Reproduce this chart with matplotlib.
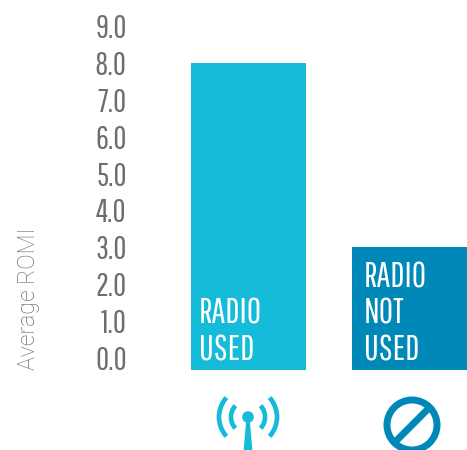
import matplotlib
matplotlib.use("Agg")
import matplotlib.pyplot as plt
from matplotlib.patches import Arc, Circle, Polygon

# chart values
categories = ["RADIO\nUSED", "RADIO\nNOT\nUSED"]
values = [8.0, 3.0]
yticks = [0, 1, 2, 3, 4, 5, 6, 7, 8, 9]
ylabels = ["0.0", "1.0", "2.0", "3.0", "4.0", "5.0", "6.0", "7.0", "8.0", "9.0"]
colors = ["#14BCD9", "#0089B8"]

W, H = 467, 450
PX_PER_UNIT = 36.9
ZERO_Y = 358
BASE_Y = 370
baseline = (ZERO_Y - BASE_Y) / PX_PER_UNIT  # bars start a bit under the 0.0 label
top_y = ZERO_Y - 9 * PX_PER_UNIT

narrow = ["Pathway Gothic One", "Oswald", "Roboto Condensed", "Roboto"]

fig = plt.figure(figsize=(W / 100, H / 100), dpi=100)
left = 130
ax = fig.add_axes([left / W, (H - BASE_Y) / H, (W - left) / W, (BASE_Y - top_y) / H])

bar_w = 115 / 161
heights = [v - baseline for v in values]
ax.bar(range(2), heights, width=bar_w, bottom=baseline, color=colors)
ax.set_xlim((left - 248.5) / 161, 1 + bar_w / 2)
ax.set_ylim(baseline, 9)

ax.set_yticks(yticks)
ax.set_yticklabels(ylabels, family=narrow, fontsize=23, color="#6D6E71")
ax.tick_params(axis="y", length=0, pad=2.3)
ax.set_xticks([])
for s in ax.spines.values():
    s.set_visible(False)

# white labels inside the bars
for i, lab in enumerate(categories):
    lines = lab.split("\n")
    for j, line in enumerate(lines):
        n = len(lines) - 1 - j
        ax.annotate(line, xy=(i - bar_w / 2, 0), xycoords="data",
                    xytext=(8 if i == 0 else 12, -(350 - ZERO_Y - n * 36.5)),
                    textcoords="offset pixels", color="white", family=narrow,
                    fontsize=25, ha="left", va="center")

fig.text(29 / W, (H - 299) / H, "Average ROMI", rotation=90, family="Roboto",
         fontweight="light", fontsize=16.7, color="#6D6E71", ha="center", va="center")

# icons, drawn in pixel space
ov = fig.add_axes([0, 0, 1, 1])
ov.set_xlim(0, W)
ov.set_ylim(H, 0)
ov.axis("off")

c = colors[0]
ov.add_patch(Circle((248, 417), 5.8, color=c, lw=0))
ov.add_patch(Polygon([(246.5, 417), (249.5, 417), (252.5, 452), (243.5, 452)], color=c, lw=0))
for r in (17, 29):
    lw = 3.4
    ov.add_patch(Arc((248, 417), 2 * r, 2 * r, theta1=-42, theta2=42, color=c, lw=lw))
    ov.add_patch(Arc((248, 417), 2 * r, 2 * r, theta1=138, theta2=222, color=c, lw=lw))

c2 = colors[1]
ov.add_patch(Circle((412, 425), 25, fill=False, ec=c2, lw=5.0))
ov.plot([393, 431], [444, 406], color=c2, lw=5.0, solid_capstyle="butt")

fig.savefig("out.png", dpi=100)
